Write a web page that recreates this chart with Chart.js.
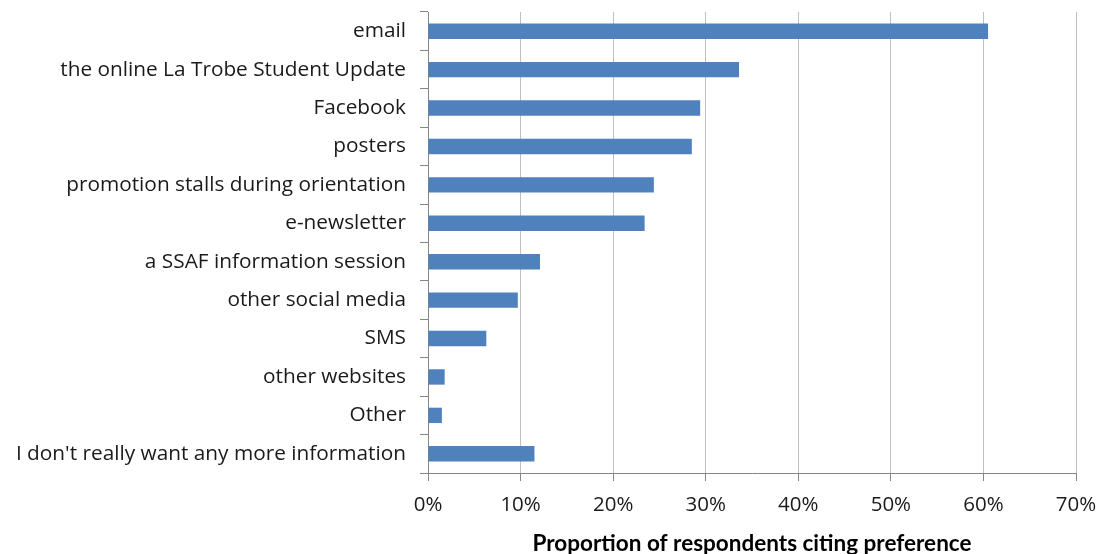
<!DOCTYPE html>
<html>
<head>
<meta charset="utf-8">
<script src="https://cdn.jsdelivr.net/npm/chart.js@4"></script>
<style>
html,body{margin:0;padding:0;background:#fff;}
#wrap{width:1097px;height:554px;position:relative;}
</style>
</head>
<body>
<div id="wrap"><canvas id="c" width="1097" height="554"></canvas></div>
<script>
const categories = [
  "email",
  "the online La Trobe Student Update",
  "Facebook",
  "posters",
  "promotion stalls during orientation",
  "e-newsletter",
  "a SSAF information session",
  "other social media",
  "SMS",
  "other websites",
  "Other",
  "I don't really want any more information"
];
const shares = [0.605, 0.336, 0.294, 0.285, 0.244, 0.234, 0.121, 0.097, 0.063, 0.018, 0.015, 0.115];
const xTicks = [0, 0.1, 0.2, 0.3, 0.4, 0.5, 0.6, 0.7];
const axisTitle = "Proportion of respondents citing preference";

const yFont = {family: "'Open Sans', 'DejaVu Sans', sans-serif", size: 20.8};
const xFont = {family: "'Open Sans', 'DejaVu Sans', sans-serif", size: 20.5};

new Chart(document.getElementById('c'), {
  type: 'bar',
  data: {
    labels: categories,
    datasets: [{
      data: shares,
      backgroundColor: '#4f81bd',
      borderColor: '#4f81bd',
      borderWidth: 0,
      barPercentage: 0.4,
      categoryPercentage: 1.0
    }]
  },
  options: {
    indexAxis: 'y',
    responsive: false,
    animation: false,
    layout: {padding: {left: 0, right: 21, top: 12, bottom: 0}},
    plugins: {legend: {display: false}, tooltip: {enabled: false}},
    scales: {
      y: {
        afterFit: s => { s.width = 428; s.paddingTop = 0; s.paddingBottom = 0; },
        grid: {display: true, drawOnChartArea: false, drawTicks: true, tickLength: 8, color: '#868686', offset: true},
        border: {display: true, color: '#868686', width: 1},
        ticks: {color: '#1a1a1a', font: yFont, padding: 14}
      },
      x: {
        min: 0, max: 0.7,
        afterBuildTicks: s => { s.ticks = xTicks.map(v => ({value: v})); },
        afterFit: s => { s.height = 554 - 473; s.paddingLeft = 0; s.paddingRight = 0; },
        grid: {display: true, color: '#bfbfbf', lineWidth: 1, tickLength: 8, tickColor: '#868686'},
        border: {display: true, color: '#868686', width: 1},
        ticks: {
          color: '#1a1a1a', font: xFont, padding: 12,
          callback: v => Math.round(v * 100) + '%'
        },
        title: {
          display: true, text: axisTitle, color: '#000',
          font: {family: "Lato, 'Open Sans', sans-serif", size: 22.5, weight: 'bold'},
          padding: {top: 0, bottom: -3}
        }
      }
    }
  }
});
</script>
</body>
</html>
